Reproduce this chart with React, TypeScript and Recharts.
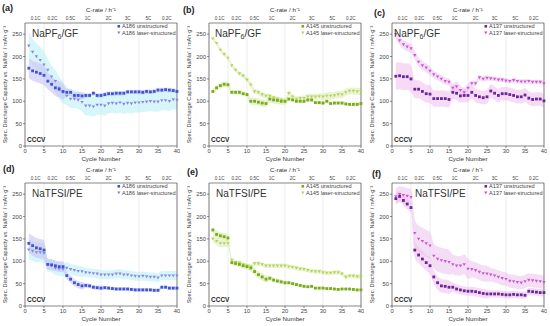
import React from "react"
import {
  ComposedChart,
  Line,
  Area,
  XAxis,
  YAxis,
  CartesianGrid,
  ReferenceLine,
} from "recharts"

const cycles = [
  1, 2, 3, 4, 5, 6, 7, 8, 9, 10, 11, 12, 13, 14, 15, 16, 17, 18, 19, 20,
  21, 22, 23, 24, 25, 26, 27, 28, 29, 30, 31, 32, 33, 34, 35, 36, 37, 38, 39, 40,
]
const cycleTicks = [0, 5, 10, 15, 20, 25, 30, 35, 40]
const capacityTicks = [0, 50, 100, 150, 200, 250]
const cRateLabels = ["0.1C", "0.2C", "0.5C", "1C", "2C", "3C", "5C", "0.2C"]
const cRatePositions = [2.8, 7.2, 12, 16.5, 22, 27, 32.5, 37.3]

// (a) A186, NaPF6/GF
const a186GfUnstructured = [174, 168, 165, 162, 158, 145, 138, 130, 127, 122, 120, 120, 113, 113, 112, 113, 113, 118, 113, 113, 115, 117, 117, 118, 118, 118, 121, 121, 121, 121, 120, 122, 121, 122, 125, 125, 126, 125, 124, 122]
const a186GfLaser = [224, 210, 200, 192, 182, 170, 155, 145, 130, 120, 112, 105, 105, 103, 98, 90, 90, 88, 92, 92, 90, 95, 96, 95, 97, 94, 96, 95, 97, 97, 98, 99, 100, 99, 99, 102, 102, 100, 104, 103]
const a186GfUnstructuredSd = [22, 18, 8, 5, 5, 5, 5, 5]
const a186GfLaserSd = [30, 25, 20, 22, 22, 22, 22, 22]

// (b) A145, NaPF6/GF
const a145GfUnstructured = [122, 130, 135, 138, 137, 120, 120, 120, 117, 115, 100, 100, 98, 96, 95, 105, 103, 102, 100, 100, 105, 103, 100, 100, 100, 103, 103, 97, 97, 96, 100, 95, 96, 96, 96, 94, 93, 93, 93, 95]
const a145GfLaser = [240, 230, 215, 205, 197, 180, 170, 162, 157, 148, 137, 122, 120, 115, 112, 112, 108, 105, 103, 100, 118, 110, 105, 107, 107, 110, 110, 110, 111, 110, 112, 112, 113, 115, 115, 120, 123, 123, 122, 122]
const a145GfUnstructuredSd = [6, 5, 8, 8, 4, 4, 4, 4]
const a145GfLaserSd = [5, 5, 6, 5, 6, 7, 8, 8]

// (c) A137, NaPF6/GF
const a137GfUnstructured = [156, 157, 155, 155, 150, 127, 127, 122, 117, 116, 106, 106, 106, 106, 104, 120, 118, 112, 113, 113, 120, 113, 110, 108, 110, 123, 118, 113, 117, 117, 115, 113, 110, 110, 114, 107, 104, 105, 105, 101]
const a137GfLaser = [250, 236, 227, 222, 218, 203, 188, 180, 175, 168, 160, 155, 150, 145, 143, 130, 133, 125, 120, 130, 140, 140, 153, 150, 152, 151, 150, 148, 148, 146, 145, 147, 145, 144, 144, 145, 143, 143, 143, 140]
const a137GfUnstructuredSd = [30, 20, 18, 15, 15, 15, 15, 15]
const a137GfLaserSd = [10, 10, 8, 10, 6, 5, 5, 5]

// (d) A186, NaTFSI/PE
const a186PeUnstructured = [140, 135, 130, 128, 125, 93, 92, 90, 88, 88, 68, 60, 52, 48, 45, 46, 45, 42, 41, 40, 41, 40, 39, 38, 38, 38, 38, 37, 36, 36, 36, 36, 36, 35, 35, 42, 42, 40, 40, 40]
const a186PeLaser = [126, 123, 120, 120, 118, 92, 90, 85, 83, 82, 85, 82, 80, 78, 77, 75, 74, 73, 72, 70, 70, 70, 70, 72, 72, 70, 70, 68, 67, 66, 67, 66, 65, 65, 63, 68, 68, 68, 68, 68]
const a186PeUnstructuredSd = [22, 12, 8, 5, 4, 4, 4, 4]
const a186PeLaserSd = [22, 15, 12, 10, 10, 10, 10, 10]

// (e) A145, NaTFSI/PE
const a145PeUnstructured = [170, 160, 157, 155, 152, 97, 95, 93, 90, 88, 85, 77, 70, 65, 60, 62, 58, 56, 54, 52, 52, 50, 48, 46, 44, 43, 44, 40, 40, 40, 39, 39, 38, 37, 38, 38, 38, 37, 36, 36]
const a145PeLaser = [150, 145, 140, 140, 140, 103, 98, 97, 93, 90, 88, 95, 95, 93, 90, 90, 90, 90, 90, 90, 88, 87, 85, 83, 82, 80, 78, 77, 77, 75, 74, 74, 75, 75, 72, 65, 67, 67, 66, 65]
const a145PeUnstructuredSd = [8, 6, 8, 5, 4, 3, 3, 3]
const a145PeLaserSd = [8, 5, 5, 5, 5, 5, 5, 5]

// (f) A137, NaTFSI/PE
const a137PeUnstructured = [240, 245, 236, 228, 220, 125, 114, 105, 97, 90, 65, 52, 45, 44, 42, 42, 38, 36, 34, 33, 33, 32, 30, 28, 27, 27, 27, 27, 26, 25, 25, 26, 25, 25, 24, 33, 32, 31, 30, 30]
const a137PeLaser = [245, 250, 248, 246, 243, 163, 150, 145, 140, 135, 112, 105, 102, 100, 98, 93, 90, 90, 93, 83, 82, 80, 76, 73, 72, 70, 68, 65, 62, 60, 56, 55, 53, 52, 55, 58, 57, 56, 55, 53]
const a137PeUnstructuredSd = [12, 18, 15, 10, 10, 8, 8, 8]
const a137PeLaserSd = [18, 30, 28, 22, 18, 15, 15, 15]

const blue = { u: "#3d55d6", l: "#8c84e6", uBand: "#c6c3f2", lBand: "#bdf0f7" }
const green = { u: "#7aab1c", l: "#b6d455", uBand: "#d6eaa8", lBand: "#dcedb6" }
const purple = { u: "#66289a", l: "#cf55d4", uBand: "#f2c2f0", lBand: "#ebc8f0" }

const FONT = "'Liberation Sans', Arial, sans-serif"
const AXIS = "#555"
const W = 180
const H = 164
const PLOT_L = 25
const PLOT_T = 23

const panels = [
  { letter: "(a)", lx: 2, ly: 11, left: 0, top: 0, salt: "NaPF", sub: "6", solv: "/GF", titleX: 32, sample: "A186", u: a186GfUnstructured, l: a186GfLaser, uSd: a186GfUnstructuredSd, lSd: a186GfLaserSd, c: blue },
  { letter: "(b)", lx: -1, ly: 13, left: 184, top: 0, salt: "NaPF", sub: "6", solv: "/GF", titleX: 31, sample: "A145", u: a145GfUnstructured, l: a145GfLaser, uSd: a145GfUnstructuredSd, lSd: a145GfLaserSd, c: green },
  { letter: "(c)", lx: 7, ly: 16, left: 367, top: 0, salt: "NaPF", sub: "6", solv: "/GF", titleX: 27, sample: "A137", u: a137GfUnstructured, l: a137GfLaser, uSd: a137GfUnstructuredSd, lSd: a137GfLaserSd, c: purple },
  { letter: "(d)", lx: 3, ly: 12, left: 0, top: 160, salt: "NaTFSI/PE", sub: "", solv: "", titleX: 32, sample: "A186", u: a186PeUnstructured, l: a186PeLaser, uSd: a186PeUnstructuredSd, lSd: a186PeLaserSd, c: blue },
  { letter: "(e)", lx: 3, ly: 15, left: 184, top: 160, salt: "NaTFSI/PE", sub: "", solv: "", titleX: 32, sample: "A145", u: a145PeUnstructured, l: a145PeLaser, uSd: a145PeUnstructuredSd, lSd: a145PeLaserSd, c: green },
  { letter: "(f)", lx: 5, ly: 17, left: 367, top: 160, salt: "NaTFSI/PE", sub: "", solv: "", titleX: 48, sample: "A137", u: a137PeUnstructured, l: a137PeLaser, uSd: a137PeUnstructuredSd, lSd: a137PeLaserSd, c: purple },
]

const squareDot = (color: string) => (p: any) => {
  if (p.cx == null || p.cy == null) return <g key={p.index} />
  return <rect key={p.index} x={p.cx - 1.4} y={p.cy - 1.4} width={2.8} height={2.8} fill={color} />
}

const triangleDot = (color: string) => (p: any) => {
  if (p.cx == null || p.cy == null) return <g key={p.index} />
  const { cx, cy } = p
  return (
    <path
      key={p.index}
      d={`M${cx - 1.7},${cy - 1.2}L${cx + 1.7},${cy - 1.2}L${cx},${cy + 1.7}Z`}
      fill={color}
    />
  )
}

function Panel({ p }: { p: (typeof panels)[number] }) {
  const rows = cycles.map((cycle, i) => {
    const seg = Math.floor((cycle - 1) / 5)
    return {
      cycle,
      u: p.u[i],
      l: p.l[i],
      uBand: [p.u[i] - p.uSd[seg], p.u[i] + p.uSd[seg]],
      lBand: [p.l[i] - p.lSd[seg], p.l[i] + p.lSd[seg]],
    }
  })
  const tick = { fontSize: 5.8, fill: "#444", fontFamily: FONT }

  return (
    <div style={{ position: "absolute", left: p.left, top: p.top, width: W, height: H }}>
      <ComposedChart width={W} height={H} data={rows} margin={{ top: 0, right: 3, bottom: 0, left: 0 }}>
        <CartesianGrid horizontal={false} stroke="#e4e4e4" strokeWidth={0.7} />
        <XAxis
          dataKey="cycle"
          type="number"
          domain={[0, 40]}
          ticks={cycleTicks}
          height={18}
          tick={tick}
          tickSize={2}
          tickMargin={1}
          stroke={AXIS}
          strokeWidth={0.7}
          label={{ value: "Cycle Number", position: "insideBottom", offset: 3, fontSize: 6.2, fill: "#333", fontFamily: FONT }}
        />
        <XAxis
          xAxisId="top"
          orientation="top"
          dataKey="cycle"
          type="number"
          domain={[0, 40]}
          ticks={cRatePositions}
          tickFormatter={(_v: number, i: number) => cRateLabels[i]}
          height={PLOT_T}
          tick={{ fontSize: 4.6, fill: "#444", fontFamily: FONT }}
          tickLine={false}
          tickSize={2}
          tickMargin={1}
          stroke={AXIS}
          strokeWidth={0.7}
          interval={0}
          label={{ value: "C-rate / h\u207B\u00B9", position: "insideTop", offset: 8, fontSize: 6.2, fill: "#333", fontFamily: FONT }}
        />
        <YAxis
          type="number"
          domain={[0, 275]}
          ticks={capacityTicks}
          width={PLOT_L}
          tick={tick}
          tickSize={2}
          tickMargin={1}
          stroke={AXIS}
          strokeWidth={0.7}
          allowDataOverflow
          label={{
            value: "Spec. Discharge Capacity vs. Na/Na\u207A / mAh\u00B7g\u207B\u00B9",
            angle: -90,
            position: "insideLeft",
            offset: 5,
            fontSize: 5.6,
            fill: "#444",
            fontFamily: FONT,
            style: { textAnchor: "middle" },
          }}
        />
        <ReferenceLine x={40} stroke={AXIS} strokeWidth={0.7} />
        <Area dataKey="lBand" type="monotone" stroke="none" fill={p.c.lBand} fillOpacity={0.6} isAnimationActive={false} />
        <Area dataKey="uBand" type="monotone" stroke="none" fill={p.c.uBand} fillOpacity={0.6} isAnimationActive={false} />
        <Line dataKey="l" stroke="none" dot={triangleDot(p.c.l)} activeDot={false} isAnimationActive={false} />
        <Line dataKey="u" stroke="none" dot={squareDot(p.c.u)} activeDot={false} isAnimationActive={false} />
      </ComposedChart>
      <svg
        width={W}
        height={H}
        style={{ position: "absolute", left: 0, top: 0, overflow: "visible", pointerEvents: "none" }}
        fontFamily={FONT}
      >
        <text x={p.lx} y={p.ly} fontSize={9} fontWeight="bold" fill="#222">
          {p.letter}
        </text>
        <text x={p.titleX} y={37} fontSize={10} fill="#333">
          {p.salt}
          {p.sub && (
            <tspan dy={2} fontSize={7}>
              {p.sub}
            </tspan>
          )}
          {p.sub && <tspan dy={-2}>{p.solv}</tspan>}
        </text>
        <rect x={117.5} y={25} width={2.6} height={2.6} fill={p.c.u} />
        <text x={122} y={28} fontSize={5.6} fill="#444">
          {p.sample} unstructured
        </text>
        <path d="M117.1,31.6L120.5,31.6L118.8,34.3Z" fill={p.c.l} />
        <text x={122} y={34.6} fontSize={5.6} fill="#444">
          {p.sample} laser-structured
        </text>
        <text x={PLOT_L + 2} y={H - 22} fontSize={6.5} fontWeight="bold" fill="#222">
          CCCV
        </text>
      </svg>
    </div>
  )
}

export default function App() {
  return (
    <div style={{ position: "absolute", left: 0, top: 0, width: 550, height: 326, background: "#fff" }}>
      {panels.map((p) => (
        <Panel key={p.letter} p={p} />
      ))}
    </div>
  )
}
